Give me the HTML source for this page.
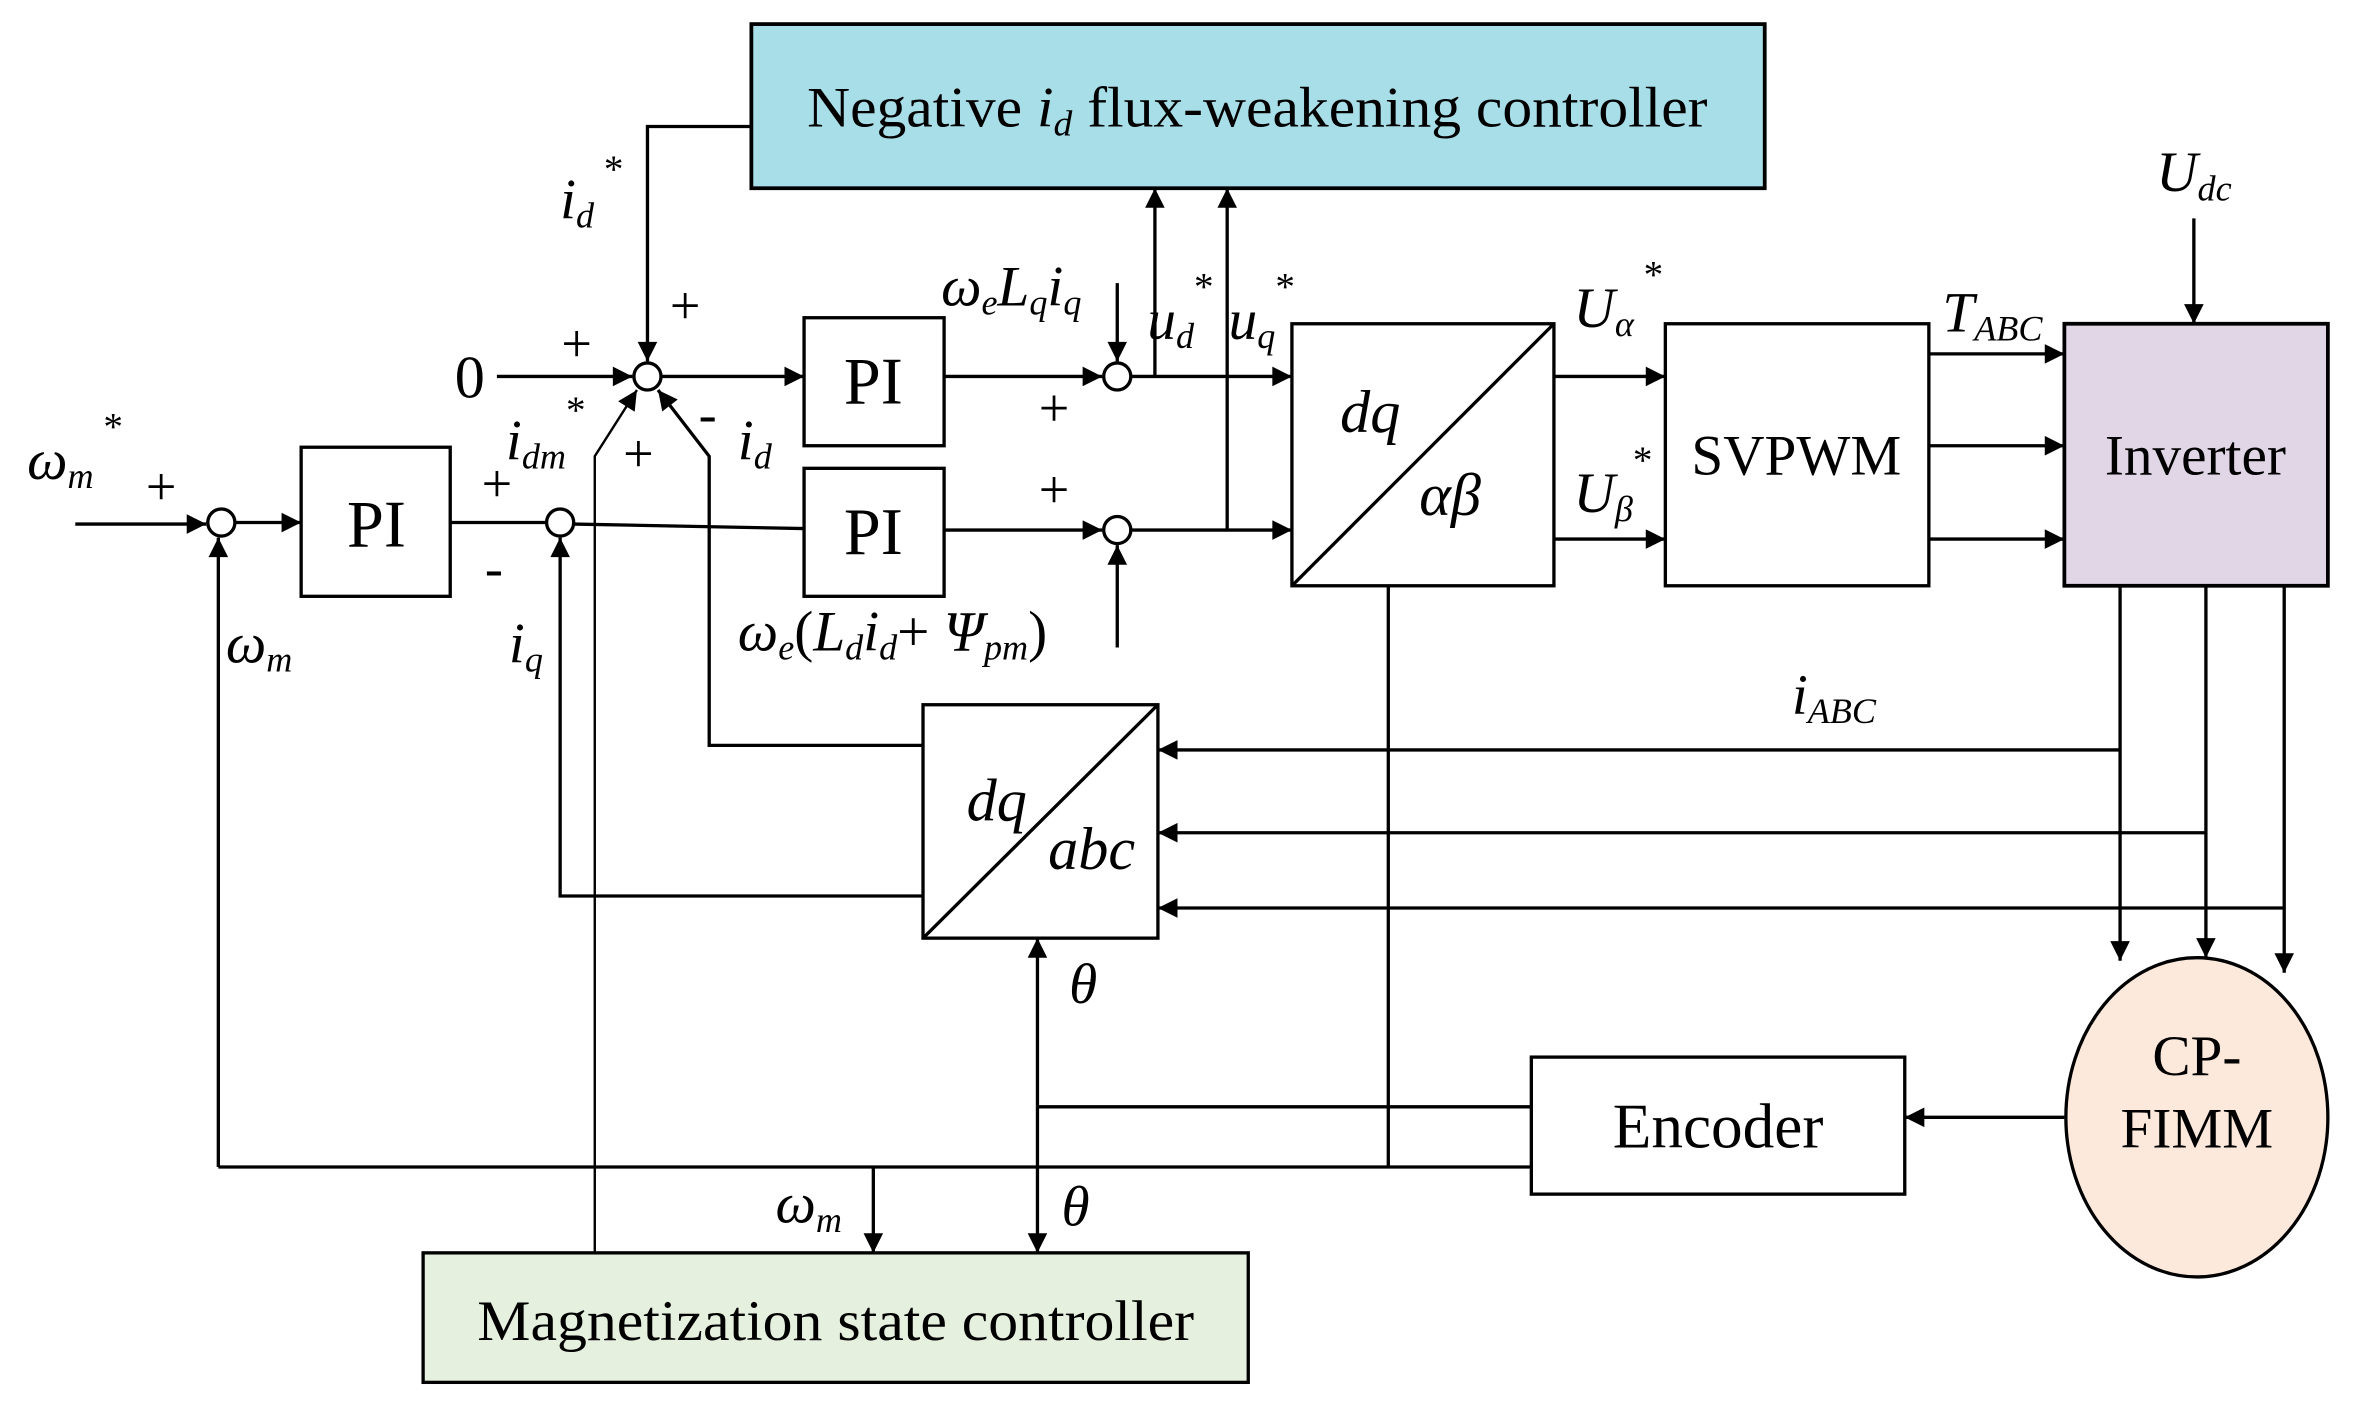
<!DOCTYPE html>
<html><head><meta charset="utf-8"><style>
html,body{margin:0;padding:0;background:#fff}
svg{display:block}
text{font-family:"Liberation Serif",serif;fill:#000}
</style></head><body>
<svg width="2361" height="1417" viewBox="0 0 1568 941" preserveAspectRatio="none" xmlns="http://www.w3.org/2000/svg">
<defs>
<marker id="a" viewBox="0 0 10 10" refX="10" refY="5" markerWidth="17" markerHeight="13" markerUnits="userSpaceOnUse" orient="auto"><path d="M0,0L10,5L0,10z" fill="#000"/></marker>
</defs>
<g stroke="#000" stroke-width="2.2" fill="none">
<rect x="499" y="16" width="673" height="109" fill="#a8dee8" stroke-width="2.5"/>
<rect x="534" y="211" width="93" height="85"/>
<rect x="534" y="311" width="93" height="85"/>
<rect x="200" y="297" width="99" height="99"/>
<rect x="858" y="215" width="174" height="174"/>
<line x1="858" y1="389" x2="1032" y2="215"/>
<rect x="1106" y="215" width="175" height="174"/>
<rect x="1371" y="215" width="175" height="174" fill="#e0d6e6" stroke-width="2.5"/>
<rect x="613" y="468" width="156" height="155"/>
<line x1="613" y1="623" x2="769" y2="468"/>
<rect x="1017" y="702" width="248" height="91"/>
<rect x="281" y="832" width="548" height="86" fill="#e6f0de"/>
<ellipse cx="1459" cy="742" rx="87" ry="106" fill="#fde9dc"/>
<circle cx="430" cy="250" r="9" fill="#fff"/>
<circle cx="742" cy="250" r="9" fill="#fff"/>
<circle cx="742" cy="352" r="9" fill="#fff"/>
<circle cx="147" cy="347" r="9" fill="#fff"/>
<circle cx="372" cy="347" r="9" fill="#fff"/>
<polyline points="499,84 430,84 430,240" marker-end="url(#a)"/>
<line x1="330" y1="250" x2="420" y2="250" marker-end="url(#a)"/>
<line x1="439" y1="250" x2="534" y2="250" marker-end="url(#a)"/>
<line x1="627" y1="250" x2="732" y2="250" marker-end="url(#a)"/>
<line x1="742" y1="188" x2="742" y2="240" marker-end="url(#a)"/>
<line x1="751" y1="250" x2="858" y2="250" marker-end="url(#a)"/>
<line x1="767" y1="250" x2="767" y2="125" marker-end="url(#a)"/>
<line x1="815" y1="352" x2="815" y2="125" marker-end="url(#a)"/>
<line x1="627" y1="352" x2="732" y2="352" marker-end="url(#a)"/>
<line x1="742" y1="430" x2="742" y2="362" marker-end="url(#a)"/>
<line x1="751" y1="352" x2="858" y2="352" marker-end="url(#a)"/>
<line x1="50" y1="348" x2="137" y2="348" marker-end="url(#a)"/>
<line x1="156" y1="347" x2="200" y2="347" marker-end="url(#a)"/>
<line x1="299" y1="347" x2="363" y2="347"/>
<line x1="381" y1="348" x2="534" y2="351"/>
<polyline points="145,775 145,357" marker-end="url(#a)"/>
<polyline points="613,595 372,595 372,357" marker-end="url(#a)"/>
<polyline points="395,832 395,303 423,259" marker-end="url(#a)" stroke-width="1.6"/>
<polyline points="613,495 471,495 471,303 437,259" marker-end="url(#a)"/>
<line x1="1032" y1="250" x2="1106" y2="250" marker-end="url(#a)"/>
<line x1="1032" y1="358" x2="1106" y2="358" marker-end="url(#a)"/>
<line x1="1281" y1="235" x2="1371" y2="235" marker-end="url(#a)"/>
<line x1="1281" y1="296" x2="1371" y2="296" marker-end="url(#a)"/>
<line x1="1281" y1="358" x2="1371" y2="358" marker-end="url(#a)"/>
<line x1="1457" y1="145" x2="1457" y2="215" marker-end="url(#a)"/>
<line x1="1408" y1="389" x2="1408" y2="638" marker-end="url(#a)"/>
<line x1="1465" y1="389" x2="1465" y2="636" marker-end="url(#a)"/>
<line x1="1517" y1="389" x2="1517" y2="646" marker-end="url(#a)"/>
<line x1="1408" y1="498" x2="769" y2="498" marker-end="url(#a)"/>
<line x1="1465" y1="553" x2="769" y2="553" marker-end="url(#a)"/>
<line x1="1517" y1="603" x2="769" y2="603" marker-end="url(#a)"/>
<line x1="1371" y1="742" x2="1265" y2="742" marker-end="url(#a)"/>
<line x1="689" y1="735" x2="689" y2="623" marker-end="url(#a)"/>
<line x1="689" y1="735" x2="689" y2="832" marker-end="url(#a)"/>
<line x1="689" y1="735" x2="1017" y2="735"/>
<line x1="145" y1="775" x2="1017" y2="775"/>
<line x1="922" y1="389" x2="922" y2="775"/>
<line x1="580" y1="775" x2="580" y2="832" marker-end="url(#a)"/>
</g>
<g font-size="38">
<text x="835" y="84" text-anchor="middle" textLength="598" lengthAdjust="spacingAndGlyphs">Negative <tspan font-style="italic">i<tspan font-size="24" dy="6">d</tspan></tspan><tspan dy="-6"> flux-weakening controller</tspan></text>
<text x="580" y="268" text-anchor="middle" font-size="44">PI</text>
<text x="580" y="368" text-anchor="middle" font-size="44">PI</text>
<text x="250" y="363" text-anchor="middle" font-size="44">PI</text>
<text x="1193" y="315" text-anchor="middle">SVPWM</text>
<text x="1458" y="315" text-anchor="middle">Inverter</text>
<text x="1141" y="762" text-anchor="middle" font-size="42">Encoder</text>
<text x="1459" y="714" text-anchor="middle">CP-</text>
<text x="1459" y="762" text-anchor="middle">FIMM</text>
<text x="555" y="890" text-anchor="middle" textLength="476" lengthAdjust="spacingAndGlyphs">Magnetization state controller</text>
<text x="312" y="264" text-anchor="middle" font-size="40">0</text>
</g>
<g font-size="40" font-style="italic">
<text x="910" y="287" text-anchor="middle">dq</text>
<text x="963" y="342" text-anchor="middle">αβ</text>
<text x="662" y="545" text-anchor="middle">dq</text>
<text x="725" y="577" text-anchor="middle">abc</text>
</g>
<g font-size="38" font-style="italic">
<text x="372" y="145">i<tspan font-size="24" dy="6">d</tspan><tspan dy="-30" font-style="normal" font-size="26"> *</tspan></text>
<text x="18" y="318">ω<tspan font-size="24" dy="6">m</tspan><tspan dy="-32" font-style="normal" font-size="26"> *</tspan></text>
<text x="150" y="440">ω<tspan font-size="24" dy="6">m</tspan></text>
<text x="338" y="440">i<tspan font-size="24" dy="6">q</tspan></text>
<text x="336" y="305">i<tspan font-size="24" dy="6">dm</tspan><tspan dy="-30" font-style="normal" font-size="26">*</tspan></text>
<text x="490" y="305">i<tspan font-size="24" dy="6">d</tspan></text>
<text x="625" y="203">ω<tspan font-size="24" dy="6">e</tspan><tspan dy="-6">L</tspan><tspan font-size="24" dy="6">q</tspan><tspan dy="-6">i</tspan><tspan font-size="24" dy="6">q</tspan></text>
<text x="762" y="225">u<tspan font-size="24" dy="6">d</tspan><tspan dy="-32" font-style="normal" font-size="26">*</tspan></text>
<text x="816" y="225">u<tspan font-size="24" dy="6">q</tspan><tspan dy="-32" font-style="normal" font-size="26">*</tspan></text>
<text x="490" y="432">ω<tspan font-size="24" dy="6">e</tspan><tspan dy="-6" font-style="normal">(</tspan>L<tspan font-size="24" dy="6">d</tspan><tspan dy="-6">i</tspan><tspan font-size="24" dy="6">d</tspan><tspan dy="-6" font-style="normal">+ </tspan>Ψ<tspan font-size="24" dy="6">pm</tspan><tspan dy="-6" font-style="normal">)</tspan></text>
<text x="1045" y="217">U<tspan font-size="24" dy="6">α</tspan><tspan dy="-32" font-style="normal" font-size="26"> *</tspan></text>
<text x="1045" y="340">U<tspan font-size="24" dy="6">β</tspan><tspan dy="-32" font-style="normal" font-size="26">*</tspan></text>
<text x="1290" y="220">T<tspan font-size="24" dy="6">ABC</tspan></text>
<text x="1432" y="127">U<tspan font-size="24" dy="6">dc</tspan></text>
<text x="1190" y="474">i<tspan font-size="24" dy="6">ABC</tspan></text>
<text x="710" y="666">θ</text>
<text x="705" y="814">θ</text>
<text x="515" y="812">ω<tspan font-size="24" dy="6">m</tspan></text>
</g>
<g font-size="36">
<text x="383" y="240" text-anchor="middle">+</text>
<text x="455" y="215" text-anchor="middle">+</text>
<text x="424" y="313" text-anchor="middle">+</text>
<text x="470" y="287" text-anchor="middle">-</text>
<text x="700" y="283" text-anchor="middle">+</text>
<text x="700" y="337" text-anchor="middle">+</text>
<text x="107" y="335" text-anchor="middle">+</text>
<text x="330" y="333" text-anchor="middle">+</text>
<text x="328" y="389" text-anchor="middle">-</text>
</g>
</svg>
</body></html>
